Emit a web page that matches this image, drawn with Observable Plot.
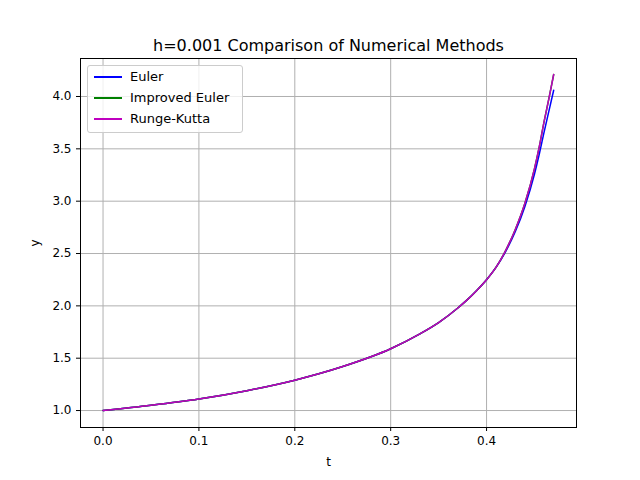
<!DOCTYPE html>
<html><head><meta charset="utf-8">
<script src="https://cdn.jsdelivr.net/npm/d3@7"></script>
<script src="https://cdn.jsdelivr.net/npm/@observablehq/plot@0.6"></script>
<style>
body{margin:0;background:#fff;font-family:"DejaVu Sans",sans-serif}
#wrap{position:relative;width:640px;height:480px}
#legend{position:absolute;left:87px;top:65px;width:154px;height:66px;border:1px solid #ccc;border-radius:3px;background:rgba(255,255,255,.8);font-size:13px}
#legend div{display:flex;align-items:center;height:21px;margin-left:6px}
#legend span.l{display:inline-block;width:28px;height:2px;margin-right:8px}
</style></head><body>
<div id="wrap"><div id="chart"></div><div id="legend"></div></div>
<script>
const tVals = [0, 0.05, 0.1, 0.15, 0.2, 0.25, 0.3, 0.33, 0.35, 0.37, 0.38, 0.39, 0.4, 0.41, 0.42, 0.43, 0.44, 0.45, 0.455, 0.46, 0.465, 0.47]
const eulerY = [1.0, 1.05, 1.11, 1.19, 1.29, 1.42, 1.59, 1.73, 1.84, 1.98, 2.06, 2.15, 2.25, 2.37, 2.52, 2.71, 2.95, 3.26, 3.45, 3.66, 3.86, 4.06]
const improvedY = [1.0, 1.05, 1.11, 1.19, 1.29, 1.42, 1.59, 1.73, 1.84, 1.98, 2.06, 2.15, 2.25, 2.37, 2.53, 2.73, 2.98, 3.31, 3.52, 3.76, 3.98, 4.21]
const rkY = improvedY
const seriesNames = ['Euler', 'Improved Euler', 'Runge-Kutta']
const seriesColors = ['#0000ff', '#008000', '#bf00bf']
const xTicks = [0, 0.1, 0.2, 0.3, 0.4]
const yTicks = [1.0, 1.5, 2.0, 2.5, 3.0, 3.5, 4.0]

const rows = []
;[eulerY, improvedY, rkY].forEach((ys, i) => {
  ys.forEach((y, j) => rows.push({t: tVals[j], y, s: seriesNames[i]}))
})

const chart = Plot.plot({
  width: 640, height: 480,
  marginLeft: 80, marginRight: 64, marginTop: 58, marginBottom: 53,
  style: {fontFamily: 'DejaVu Sans, sans-serif', fontSize: '12px', color: '#000'},
  x: {domain: [-0.0235, 0.4938], ticks: xTicks, tickFormat: d3.format('.1f'), label: 't', labelAnchor: 'center', labelArrow: 'none', labelOffset: 38, tickSize: 4},
  y: {domain: [0.838, 4.363], ticks: yTicks, tickFormat: d3.format('.1f'), label: 'y', labelAnchor: 'center', labelArrow: 'none', labelOffset: 50, tickSize: 4},
  color: {domain: seriesNames, range: seriesColors},
  marks: [
    Plot.gridX(xTicks, {stroke: '#b0b0b0', strokeOpacity: 1}),
    Plot.gridY(yTicks, {stroke: '#b0b0b0', strokeOpacity: 1}),
    Plot.line(rows, {x: 't', y: 'y', z: 's', stroke: 's', strokeWidth: 1.5, curve: 'monotone-x'}),
    Plot.frame({stroke: '#000'}),
    Plot.text(['h=0.001 Comparison of Numerical Methods'], {frameAnchor: 'top', dy: -19, fontSize: 16, fill: '#000'})
  ]
})
document.getElementById('chart').append(chart)

const lg = d3.select('#legend')
seriesNames.forEach((n, i) => {
  const r = lg.append('div')
  r.append('span').attr('class', 'l').style('background', seriesColors[i])
  r.append('span').text(n)
})
</script>
</body></html>
